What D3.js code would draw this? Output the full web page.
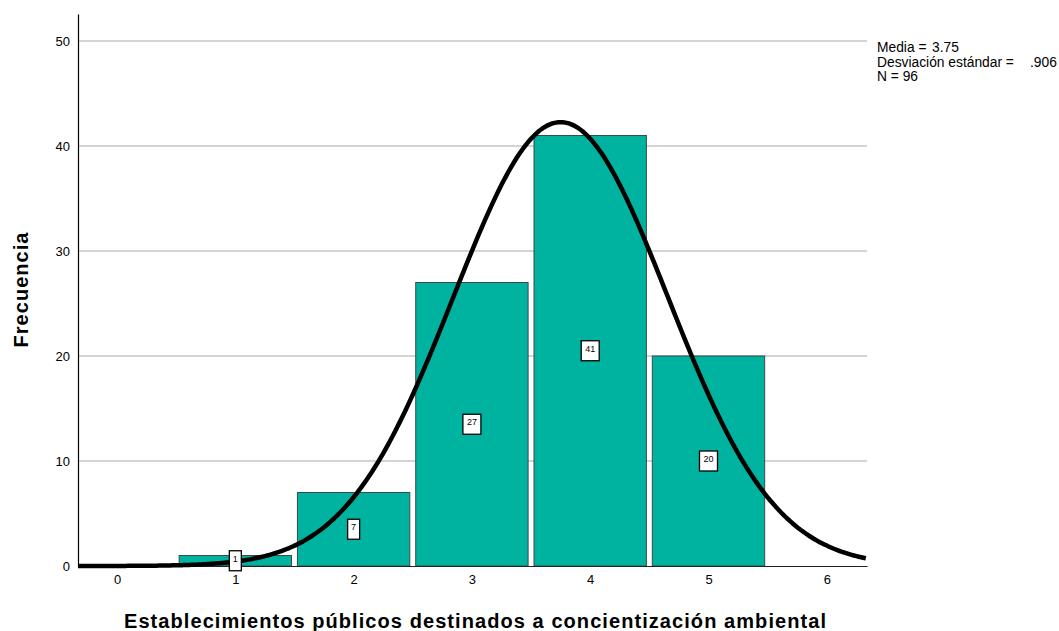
<!DOCTYPE html>
<html><head><meta charset="utf-8">
<script src="https://cdn.jsdelivr.net/npm/d3@7"></script>
<style>body{margin:0;background:#fff}svg{display:block;font-family:"Liberation Sans",Arial,sans-serif}</style>
</head><body>
<svg id="c" width="1059" height="631"></svg>
<script>
const categories = [1, 2, 3, 4, 5];
const frequencies = [1, 7, 27, 41, 20];
const xTicks = [0, 1, 2, 3, 4, 5, 6];
const yTicks = [0, 10, 20, 30, 40, 50];
const mean = 3.75, sd = 0.906, n = 96;
const legendLabels = ["Media =", "Desviación estándar =", "N = 96"];
const legendValues = ["3.75", ".906", ""];

const svg = d3.select("#c");
const pLeft = 78, pRight = 867, pTop = 14, pBottom = 566;
const x = d3.scaleLinear().domain([-0.33, 6.34]).range([pLeft, pRight]);
const y = d3.scaleLinear().domain([0, 52.57]).range([pBottom, pTop]);

// grid
svg.append("g").selectAll("line").data(yTicks.filter(d => d > 0)).join("line")
  .attr("x1", pLeft).attr("x2", pRight).attr("y1", d => y(d)).attr("y2", d => y(d))
  .attr("stroke", "#aaaaaa").attr("stroke-width", 1.2);

// bars
const bw = 0.95;
svg.append("g").selectAll("rect").data(categories).join("rect")
  .attr("x", (d) => x(d - bw / 2)).attr("width", (d) => x(d + bw / 2) - x(d - bw / 2))
  .attr("y", (d, i) => y(frequencies[i])).attr("height", (d, i) => y(0) - y(frequencies[i]))
  .attr("fill", "#00b3a1").attr("stroke", "#3a4a48").attr("stroke-width", 1);

// axes
const yAxis = d3.axisLeft(y).tickValues(yTicks).tickSize(0).tickPadding(8);
const gy = svg.append("g").attr("transform", `translate(${pLeft},0)`).call(yAxis);
gy.select(".domain").attr("stroke", "#000").attr("stroke-width", 1.2);
gy.selectAll("text").attr("font-size", 13).attr("font-family", "Liberation Sans, Arial, sans-serif").attr("fill", "#000");

const xAxis = d3.axisBottom(x).tickValues(xTicks).tickSize(0).tickPadding(9).tickFormat(d3.format("d"));
const gx = svg.append("g").attr("transform", `translate(0,${pBottom})`).call(xAxis);
gx.select(".domain").attr("stroke", "#222").attr("stroke-width", 1.2);
gx.selectAll("text").attr("font-size", 13).attr("font-family", "Liberation Sans, Arial, sans-serif").attr("fill", "#000");

// normal curve
const pdf = v => n * Math.exp(-0.5 * ((v - mean) / sd) ** 2) / (sd * Math.sqrt(2 * Math.PI));
const xs = d3.range(-0.33, 6.3401, 0.02);
svg.append("path").datum(xs)
  .attr("d", d3.line().x(d => x(d)).y(d => y(pdf(d))).curve(d3.curveBasis))
  .attr("fill", "none").attr("stroke", "#000").attr("stroke-width", 4.5);

// value labels
const lab = svg.append("g").selectAll("g").data(categories).join("g")
  .attr("transform", (d, i) => `translate(${x(d)},${y(frequencies[i] / 2)})`);
lab.append("rect")
  .attr("x", (d, i) => String(frequencies[i]).length > 1 ? -9 : -6)
  .attr("width", (d, i) => String(frequencies[i]).length > 1 ? 18 : 12)
  .attr("y", -10).attr("height", 20)
  .attr("fill", "#fff").attr("stroke", "#000").attr("stroke-width", 1.3);
lab.append("text").attr("text-anchor", "middle").attr("dy", "0.1em")
  .attr("font-size", 9).text((d, i) => frequencies[i]);

// legend
const lg = svg.append("g").attr("font-size", 13.8);
lg.selectAll("text.l").data(legendLabels).join("text").attr("class", "l")
  .attr("x", 877).attr("y", (d, i) => 52 + i * 14.7).text(d => d);
const valueX = [932, 1030, 0];
lg.selectAll("text.v").data(legendValues).join("text").attr("class", "v")
  .attr("x", (d, i) => valueX[i]).attr("y", (d, i) => 52 + i * 14.7).text(d => d);

// titles
svg.append("text").attr("x", 475).attr("y", 628).attr("text-anchor", "middle")
  .attr("font-size", 20).attr("font-weight", "bold")
  .attr("textLength", 702).attr("lengthAdjust", "spacing")
  .text("Establecimientos públicos destinados a concientización ambiental");
svg.append("text").attr("transform", "translate(28,290) rotate(-90)").attr("text-anchor", "middle")
  .attr("font-size", 20).attr("font-weight", "bold")
  .attr("textLength", 115).attr("lengthAdjust", "spacing").text("Frecuencia");
</script>
</body></html>
